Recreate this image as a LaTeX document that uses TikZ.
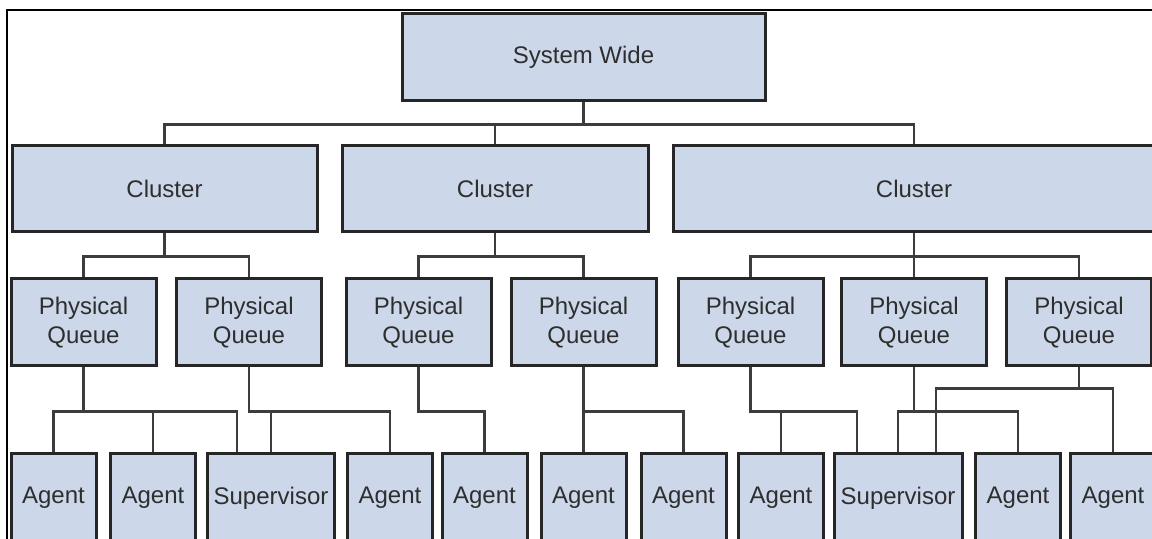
\documentclass[tikz,border=0pt]{standalone}
\usepackage{fontspec}
\setmainfont{Liberation Sans}
\usetikzlibrary{positioning}
\definecolor{boxblue}{RGB}{204,216,234}
\definecolor{linegray}{RGB}{60,60,60}

\begin{document}
\begin{tikzpicture}[x=0.5pt, y=-0.5pt,
box/.style={rectangle, draw=black!85, line width=1.5pt, fill=boxblue, text=black!82, inner sep=0pt, align=center, font=\fontsize{12}{14.5}\selectfont},
sysbox/.style={box, minimum width=181.5pt, minimum height=43.5pt},
clus/.style={box, minimum height=43pt},
queue/.style={box, minimum width=72.5pt, minimum height=43.5pt},
leaf/.style={box, minimum width=42.5pt, minimum height=44pt},
link/.style={draw=linegray, line width=1.25pt}]
\useasboundingbox (0,0) rectangle (1152,539);
\clip (0,0) rectangle (1152,539);
\draw[line width=0.8pt] (7,545) -- (7,10) -- (1160,10);
% top two levels
\node[sysbox] (sys) at (583.5,57.5) {System Wide};
\node[clus, minimum width=152.5pt] (c1) at (164.5,189) {Cluster};
\node[clus, minimum width=153pt] (c2) at (495,189) {Cluster};
\node[clus, minimum width=241pt] (c3) at (914,189) {Cluster};
% queues
\foreach \x/\n in {83.5/q1, 249/q2, 418.5/q3, 583.5/q4, 750.5/q5, 914/q6, 1079/q7}
  \node[queue] (\n) at (\x,322.5) {Physical\\Queue};
% agents and supervisors
\foreach \x/\n in {53.5/a1, 153/a2, 390/a3, 484.5/a4, 583.5/a5, 683.5/a6, 781/a7, 1018/a8, 1113/a9}
  \node[leaf] (\n) at (\x,498) {Agent};
\node[leaf, minimum width=63.5pt] (s1) at (271,498) {Supervisor};
\node[leaf, minimum width=64pt] (s2) at (898,498) {Supervisor};
% connectors
\foreach \c in {c1,c2,c3}
  \draw[link] (sys.south) -- ++(0,22) -| (\c.north);
\foreach \p/\c in {c1/q1, c1/q2, c2/q3, c2/q4, c3/q5, c3/q6, c3/q7}
  \draw[link] (\p.south) -- ++(0,23) -| (\c.north);
\foreach \p/\c in {q1/a1, q1/a2, q2/s1, q2/a3, q3/a4, q4/a5, q4/a6, q5/a7, q6/s2, q6/a8}
  \draw[link] (\p.south) -- ++(0,44) -| (\c.north);
\draw[link] (q1.south) -- ++(0,44) -| ([xshift=-17pt]s1.north);
\draw[link] (q5.south) -- ++(0,44) -| ([xshift=-20.5pt]s2.north);
\draw[link] (q7.south) -- ++(0,21) -| ([xshift=19pt]s2.north);
\draw[link] (q7.south) -- ++(0,21) -| (a9.north);
\end{tikzpicture}
\end{document}
